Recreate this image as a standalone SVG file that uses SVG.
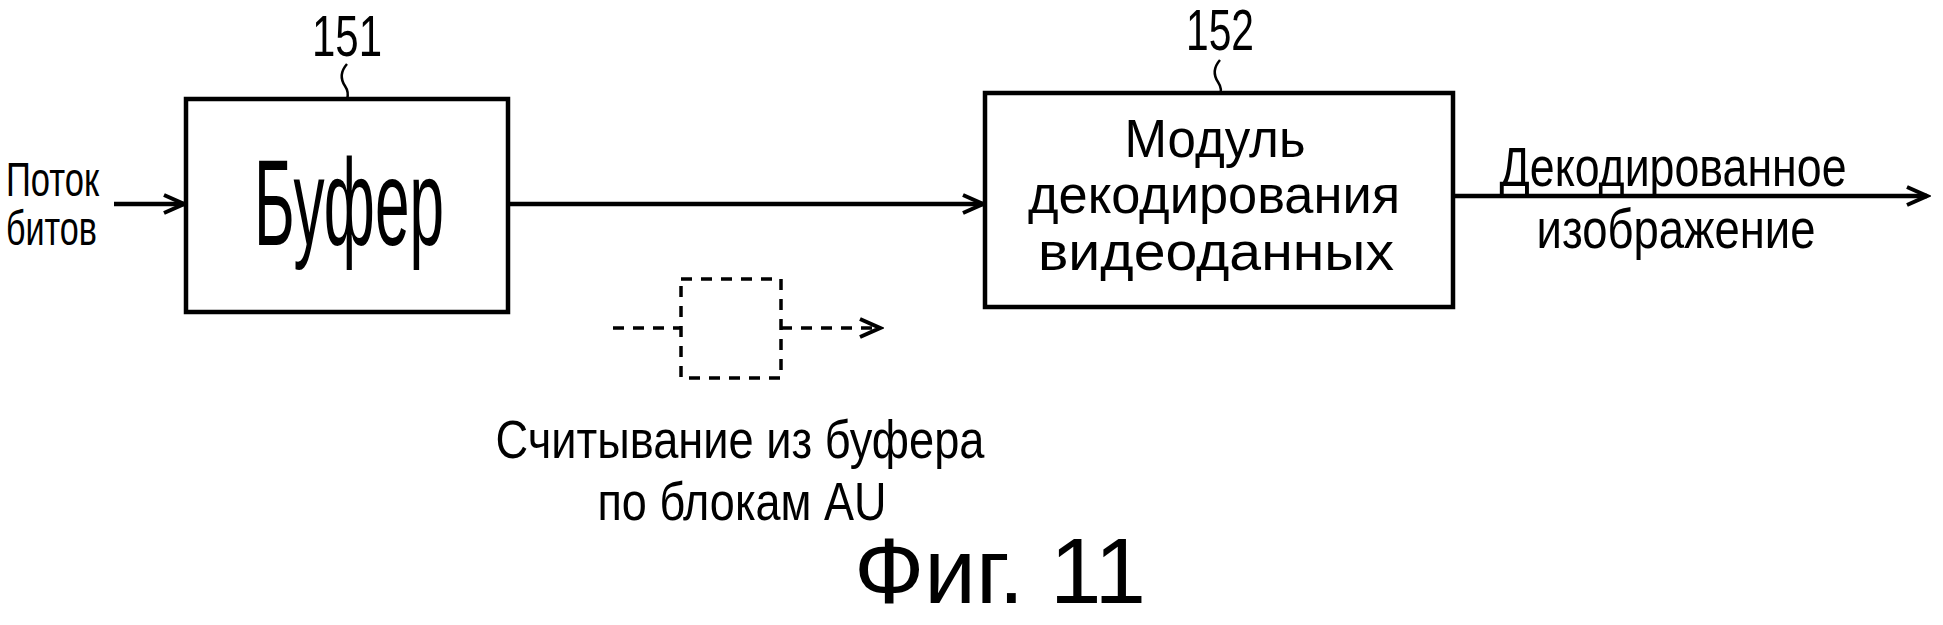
<svg xmlns="http://www.w3.org/2000/svg" width="1943" height="625" viewBox="0 0 1943 625">
<style>
.box{fill:#fff;stroke:#000;stroke-width:4.5}
.dbox{fill:none;stroke:#000;stroke-width:3.5;stroke-dasharray:11 9}
.ln{fill:none;stroke:#000;stroke-width:4.5}
.dl{fill:none;stroke:#000;stroke-width:3.5;stroke-dasharray:11 9}
.sq{fill:none;stroke:#000;stroke-width:2.5}
.t{font-family:"Liberation Sans Narrow","Liberation Sans",Arial,sans-serif;fill:#000;text-anchor:middle}
.s{font-family:"Liberation Sans Narrow","Liberation Sans",Arial,sans-serif;fill:#000;text-anchor:start}
.fig{font-family:"Liberation Sans",Arial,sans-serif;fill:#000;text-anchor:middle;font-size:92px}
</style>
<defs>
<marker id="ah" markerWidth="30" markerHeight="30" refX="26" refY="15" orient="auto" markerUnits="userSpaceOnUse">
<path d="M6,6 L26,15 L6,24" fill="none" stroke="#000" stroke-width="4"/>
</marker>
</defs>
<g id="connectors">
<line class="ln" x1="114" y1="204" x2="184" y2="204" marker-end="url(#ah)"/>
<line class="ln" x1="508" y1="204" x2="983" y2="204" marker-end="url(#ah)"/>
<line class="ln" x1="1453" y1="196" x2="1927" y2="196" marker-end="url(#ah)"/>
<path class="sq" d="M347,64 C340,72 341,80 345,86 C349,92 348,96 347,99"/>
<path class="sq" d="M1220,60 C1213,68 1214,76 1218,82 C1222,88 1221,92 1220,93"/>
</g>
<g id="input-label">
<text class="s" x="6" y="196" font-size="48" textLength="93" lengthAdjust="spacingAndGlyphs">Поток</text>
<text class="s" x="6" y="245" font-size="48" textLength="91" lengthAdjust="spacingAndGlyphs">битов</text>
</g>
<g id="node-151">
<text class="t" x="347" y="56" font-size="58" textLength="70" lengthAdjust="spacingAndGlyphs">151</text>
<rect class="box" x="186" y="99" width="322" height="213"/>
<text class="t" x="349" y="245" font-size="122" textLength="190" lengthAdjust="spacingAndGlyphs">Буфер</text>
</g>
<g id="node-152">
<text class="t" x="1220" y="50" font-size="58" textLength="68" lengthAdjust="spacingAndGlyphs">152</text>
<rect class="box" x="985" y="93" width="468" height="214"/>
<text class="t" x="1215" y="157" font-size="54" textLength="181" lengthAdjust="spacingAndGlyphs">Модуль</text>
<text class="t" x="1214" y="213" font-size="54" textLength="372" lengthAdjust="spacingAndGlyphs">декодирования</text>
<text class="t" x="1216" y="270" font-size="54" textLength="356" lengthAdjust="spacingAndGlyphs">видеоданных</text>
</g>
<g id="output-label">
<text class="t" x="1673" y="186" font-size="55" textLength="347" lengthAdjust="spacingAndGlyphs">Декодированное</text>
<text class="t" x="1676" y="248" font-size="55" textLength="279" lengthAdjust="spacingAndGlyphs">изображение</text>
</g>
<g id="legend">
<line class="dl" x1="613" y1="328" x2="681" y2="328"/>
<rect class="dbox" x="681" y="279" width="100" height="99"/>
<line class="dl" x1="781" y1="328" x2="880" y2="328" marker-end="url(#ah)"/>
<text class="t" x="740" y="458" font-size="54" textLength="489" lengthAdjust="spacingAndGlyphs">Считывание из буфера</text>
<text class="t" x="742" y="520" font-size="54" textLength="289" lengthAdjust="spacingAndGlyphs">по блокам AU</text>
</g>
<g id="caption">
<text class="fig" x="1000" y="603" textLength="292" lengthAdjust="spacingAndGlyphs">Фиг. 11</text>
</g>
</svg>
